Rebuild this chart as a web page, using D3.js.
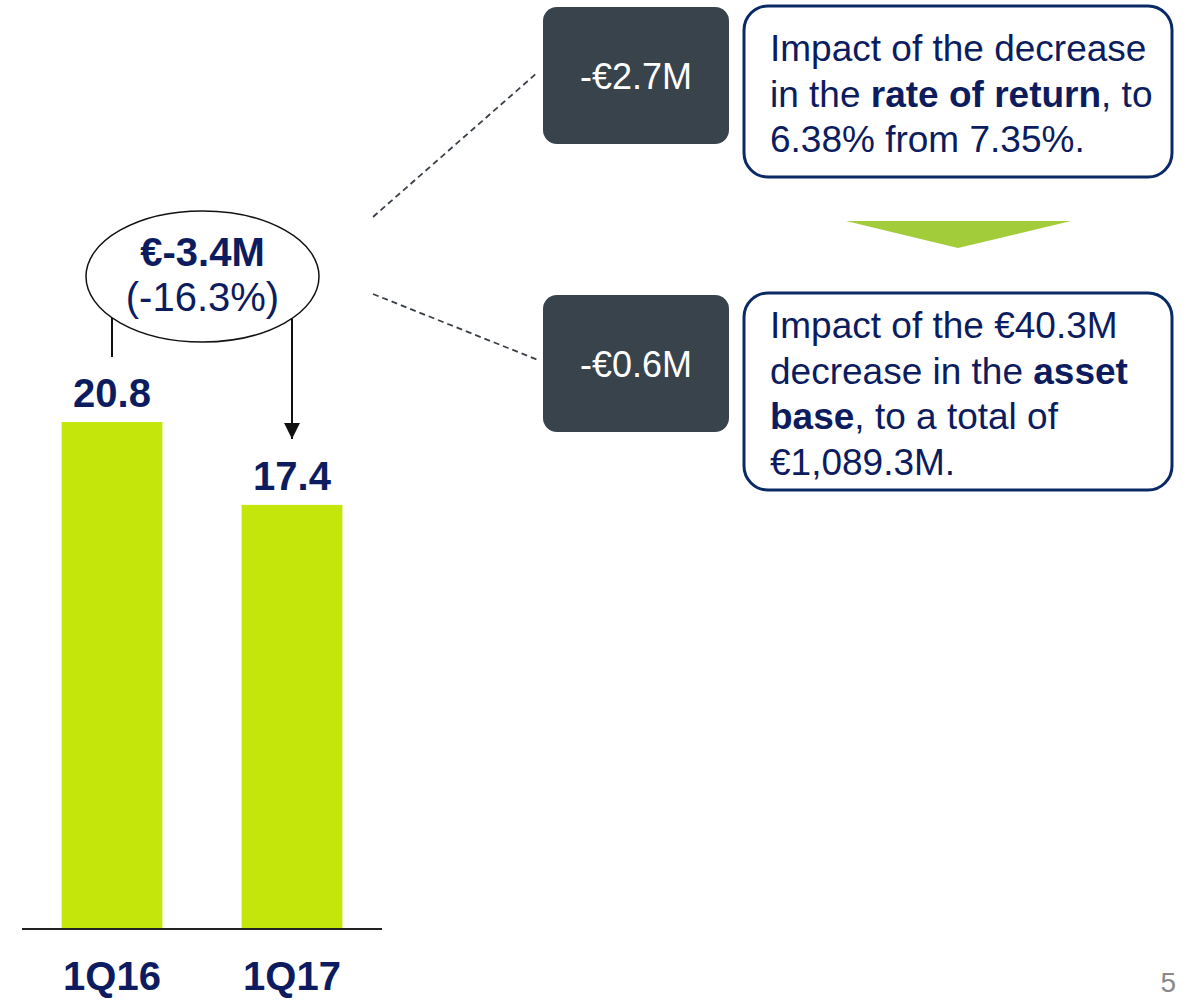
<!DOCTYPE html>
<html>
<head>
<meta charset="utf-8">
<script src="https://cdn.jsdelivr.net/npm/d3@7"></script>
<style>
  body { margin: 0; background: #fff; }
  svg { display: block; font-family: "Liberation Sans", Arial, sans-serif; }
</style>
</head>
<body>
<svg id="chart" width="1188" height="1000"></svg>
<script>
// chart data
const categories = ["1Q16", "1Q17"];
const values = [20.8, 17.4];
const valueLabels = ["20.8", "17.4"];
const changeLabel = "€-3.4M";
const changePctLabel = "(-16.3%)";
const driverValues = ["-€2.7M", "-€0.6M"];
// each line is a list of [text, bold]
const driverTexts = [
	[
		[["Impact of the decrease", false]],
		[["in the ", false], ["rate of return", true], [", to", false]],
		[["6.38% from 7.35%.", false]],
	],
	[
		[["Impact of the €40.3M", false]],
		[["decrease in the ", false], ["asset", true]],
		[["base", true], [", to a total of", false]],
		[["€1,089.3M.", false]],
	],
];
const pageNumber = "5";

const navy = "#0c1c5e";
const green = "#c5e60a";
const darkBox = "#38434c";

const svg = d3.select("#chart");

const xScale = d3
	.scaleBand()
	.domain(categories)
	.range([22, 382])
	.paddingInner(0.44)
	.paddingOuter(0.22);

const yScale = d3.scaleLinear().domain([0, 20.8]).range([929, 422]);

// bars
svg.append("g")
	.selectAll("rect")
	.data(values)
	.join("rect")
	.attr("x", (d, i) => xScale(categories[i]))
	.attr("y", (d) => yScale(d))
	.attr("width", xScale.bandwidth())
	.attr("height", (d) => yScale(0) - yScale(d))
	.style("fill", green);

// baseline
svg.append("line")
	.attr("x1", 22)
	.attr("x2", 382)
	.attr("y1", yScale(0))
	.attr("y2", yScale(0))
	.style("stroke", "#222")
	.style("stroke-width", 2);

// value labels
svg.append("g")
	.selectAll("text")
	.data(values)
	.join("text")
	.attr("x", (d, i) => xScale(categories[i]) + xScale.bandwidth() / 2)
	.attr("y", (d) => yScale(d) - 15)
	.attr("text-anchor", "middle")
	.style("font-size", "40px")
	.style("font-weight", "bold")
	.style("fill", navy)
	.text((d, i) => valueLabels[i]);

// category labels
svg.append("g")
	.selectAll("text")
	.data(categories)
	.join("text")
	.attr("x", (d) => xScale(d) + xScale.bandwidth() / 2)
	.attr("y", 990)
	.attr("text-anchor", "middle")
	.style("font-size", "40px")
	.style("font-weight", "bold")
	.style("fill", navy)
	.text((d) => d);

// change bubble
const cx = 202.5, cy = 276.5, rx = 116.5, ry = 65.5;
const x0 = xScale(categories[0]) + xScale.bandwidth() / 2;
const x1 = xScale(categories[1]) + xScale.bandwidth() / 2;
const edgeY = (x) => cy + ry * Math.sqrt(1 - ((x - cx) / rx) ** 2);

svg.append("line")
	.attr("x1", x0)
	.attr("x2", x0)
	.attr("y1", edgeY(x0))
	.attr("y2", 357)
	.style("stroke", "#111")
	.style("stroke-width", 2);

svg.append("defs")
	.append("marker")
	.attr("id", "arrow")
	.attr("viewBox", "0 0 16 16")
	.attr("refX", 16)
	.attr("refY", 8)
	.attr("markerWidth", 16)
	.attr("markerHeight", 16)
	.attr("markerUnits", "userSpaceOnUse")
	.attr("orient", "auto")
	.append("path")
	.attr("d", "M0,0 L16,8 L0,16 Z")
	.style("fill", "#111");

svg.append("line")
	.attr("x1", x1)
	.attr("x2", x1)
	.attr("y1", edgeY(x1))
	.attr("y2", yScale(values[1]) - 66)
	.attr("marker-end", "url(#arrow)")
	.style("stroke", "#111")
	.style("stroke-width", 2);

svg.append("ellipse")
	.attr("cx", cx)
	.attr("cy", cy)
	.attr("rx", rx)
	.attr("ry", ry)
	.style("fill", "#fff")
	.style("stroke", "#111")
	.style("stroke-width", 1.5);

svg.append("text")
	.attr("x", cx)
	.attr("y", 266)
	.attr("text-anchor", "middle")
	.style("font-size", "40px")
	.style("font-weight", "bold")
	.style("fill", navy)
	.text(changeLabel);

svg.append("text")
	.attr("x", cx)
	.attr("y", 311)
	.attr("text-anchor", "middle")
	.style("font-size", "40px")
	.style("fill", navy)
	.text(changePctLabel);

// dashed connectors
const connectors = [
	[[373, 217], [538, 72]],
	[[373, 294], [538, 360]],
];
svg.append("g")
	.selectAll("line")
	.data(connectors)
	.join("line")
	.attr("x1", (d) => d[0][0])
	.attr("y1", (d) => d[0][1])
	.attr("x2", (d) => d[1][0])
	.attr("y2", (d) => d[1][1])
	.style("stroke", "#3a4048")
	.style("stroke-width", 1.8)
	.style("stroke-dasharray", "6,4");

// driver boxes
const darkBoxes = [
	{ y: 7, h: 137 },
	{ y: 295, h: 137 },
];
const textBoxes = [
	{ y: 6, h: 171, first: 61 },
	{ y: 293, h: 197, first: 338 },
];

darkBoxes.forEach((b, i) => {
	svg.append("rect")
		.attr("x", 543)
		.attr("y", b.y)
		.attr("width", 186)
		.attr("height", b.h)
		.attr("rx", 14)
		.style("fill", darkBox);
	svg.append("text")
		.attr("x", 636)
		.attr("y", b.y + b.h / 2 + 13)
		.attr("text-anchor", "middle")
		.style("font-size", "36px")
		.style("fill", "#fff")
		.text(driverValues[i]);
});

textBoxes.forEach((b, i) => {
	svg.append("rect")
		.attr("x", 744)
		.attr("y", b.y)
		.attr("width", 428)
		.attr("height", b.h)
		.attr("rx", 24)
		.style("fill", "#fff")
		.style("stroke", "#0a2a66")
		.style("stroke-width", 3);
	const t = svg.append("text")
		.style("font-size", "37px")
		.style("fill", navy);
	driverTexts[i].forEach((line, j) => {
		line.forEach((seg, k) => {
			const ts = t.append("tspan")
				.style("font-weight", seg[1] ? "bold" : "normal")
				.text(seg[0]);
			if (k === 0) {
				ts.attr("x", 770).attr("y", b.first + j * 45.5);
			}
		});
	});
});

// green down triangle between boxes
svg.append("path")
	.attr("d", d3.line()([[846, 221], [1071, 221], [958, 248]]) + "Z")
	.style("fill", "#a3cc3b");

// page number
svg.append("text")
	.attr("x", 1176)
	.attr("y", 992)
	.attr("text-anchor", "end")
	.style("font-size", "28px")
	.style("fill", "#888")
	.text(pageNumber);
</script>
</body>
</html>
